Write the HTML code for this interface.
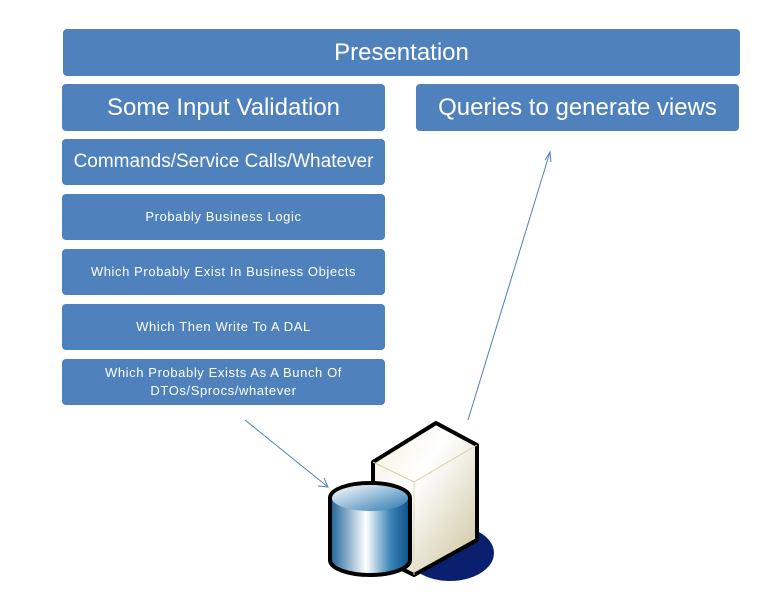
<!DOCTYPE html>
<html><head><style>
body{margin:0;width:771px;height:598px;background:#fff;position:relative;overflow:hidden;font-family:"Liberation Sans",sans-serif}
.b{position:absolute;background:#4f81bd;border-radius:4px;color:#fff;display:flex;align-items:center;justify-content:center;text-align:center;line-height:18px}
.s{font-size:13px;letter-spacing:0.6px}
</style></head><body>
<div class="b" style="left:63px;top:29px;width:677px;height:47px;font-size:24px">Presentation</div>
<div class="b" style="left:62px;top:84px;width:323px;height:47px;font-size:24px">Some Input Validation</div>
<div class="b" style="left:416px;top:84px;width:323px;height:47px;font-size:24px">Queries to generate views</div>
<div class="b" style="left:62px;top:139px;width:323px;height:46px;font-size:19px">Commands/Service Calls/Whatever</div>
<div class="b s" style="left:62px;top:194px;width:323px;height:46px">Probably Business Logic</div>
<div class="b s" style="left:62px;top:249px;width:323px;height:46px">Which Probably Exist In Business Objects</div>
<div class="b s" style="left:62px;top:304px;width:323px;height:46px">Which Then Write To A DAL</div>
<div class="b s" style="left:62px;top:359px;width:323px;height:46px">Which Probably Exists As A Bunch Of<br>DTOs/Sprocs/whatever</div>
<svg width="771" height="598" style="position:absolute;left:0;top:0">
<defs>
<linearGradient id="cyl" x1="0" x2="1"><stop offset="0" stop-color="#1a5f95"/><stop offset="0.45" stop-color="#ffffff"/><stop offset="0.75" stop-color="#3c85b8"/><stop offset="1" stop-color="#0c4e86"/></linearGradient>
<linearGradient id="top" x1="0" x2="1" y1="0" y2="1"><stop offset="0" stop-color="#ffffff"/><stop offset="1" stop-color="#2a78b0"/></linearGradient>
<linearGradient id="srv" x1="0" x2="1" y1="0" y2="1"><stop offset="0" stop-color="#f4f0dc"/><stop offset="0.4" stop-color="#ffffff"/><stop offset="1" stop-color="#cbc29a"/></linearGradient>
</defs>
<g stroke="#4f81bd" stroke-width="1" fill="none">
<line x1="245" y1="420" x2="328" y2="487"/><polyline points="318,486 328,487 324,478"/>
<line x1="468" y1="420" x2="550" y2="152"/><polyline points="545,160 550,152 551,162"/>
</g>
<ellipse cx="450" cy="553" rx="44" ry="28" fill="#0a1f6e"/>
<g stroke="#000" stroke-width="4" stroke-linejoin="round">
<polygon points="373,462 436,423 477,445 477,540 414,575 373,555" fill="url(#srv)"/>
</g>
<polyline points="373,462 414,482 477,445" stroke="#d8cfa8" stroke-width="1" fill="none"/>
<line x1="414" y1="482" x2="414" y2="575" stroke="#e0d8b8" stroke-width="1"/>
<path d="M330,498 A40,15 0 0 1 410,498 L410,560 A40,15 0 0 1 330,560 Z" fill="url(#cyl)" stroke="#000" stroke-width="4"/>
<ellipse cx="370" cy="498" rx="38" ry="13" fill="url(#top)"/>
</svg>
</body></html>
